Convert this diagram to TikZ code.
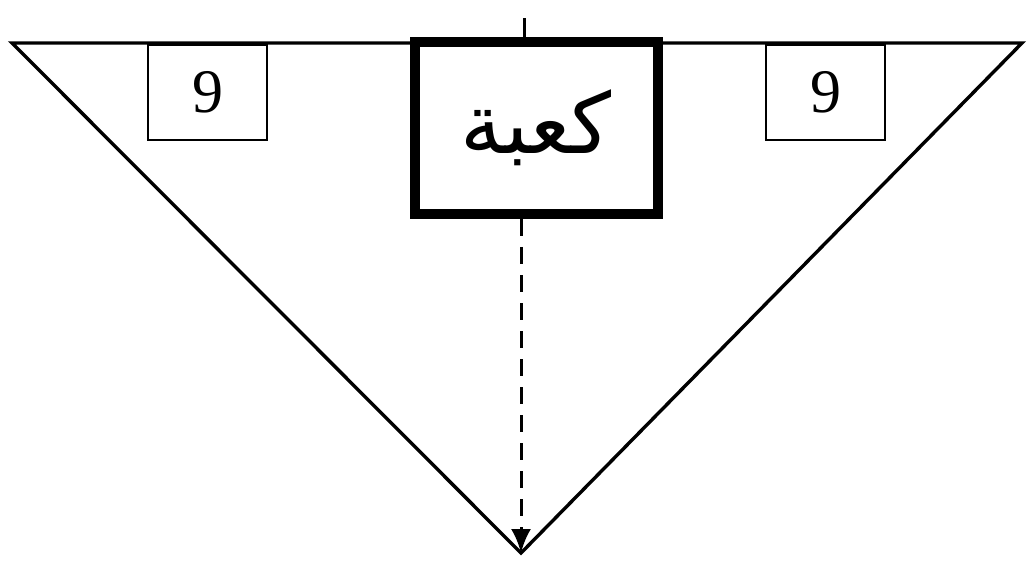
\documentclass[tikz,border=0pt]{standalone}
\usepackage{fontspec}
\setmainfont{Liberation Serif}
\newfontfamily\arabicfont[Script=Arabic]{DejaVu Sans}
\TeXXeTstate=1
\usetikzlibrary{arrows.meta}
\begin{document}
\begin{tikzpicture}[x=1pt,y=-1pt,
  smallbox/.style={draw,line width=2.2pt,minimum width=119pt,minimum height=95pt,inner sep=0pt,font=\fontsize{62}{62}\selectfont},
  bigbox/.style={draw,line width=10pt,minimum width=243pt,minimum height=172pt,inner sep=0pt,fill=white},
  tri/.style={line width=3.4pt,line join=miter},
  axis/.style={line width=3pt}]
\useasboundingbox (0,0) rectangle (1027,561);
\coordinate (L) at (12,43);
\coordinate (R) at (1022,43);
\coordinate (A) at (521,553);
\coordinate (T) at (524,18);
\draw[tri] (L) -- (R) -- (A) -- cycle;
\node[smallbox,anchor=north west] (b1) at (147,44) {9};
\node[smallbox,anchor=north west] (b2) at (765,44) {9};
\node[bigbox] (k) at (536,128) {\arabicfont\fontsize{84}{84}\selectfont\beginR كعبة\endR};
\draw[axis] (k.north -| T) -- (T);
\draw[axis,dash pattern=on 17pt off 11pt,-{Latex[length=24pt,width=20pt]}] (k.south -| A) -- (A);
\end{tikzpicture}
\end{document}
